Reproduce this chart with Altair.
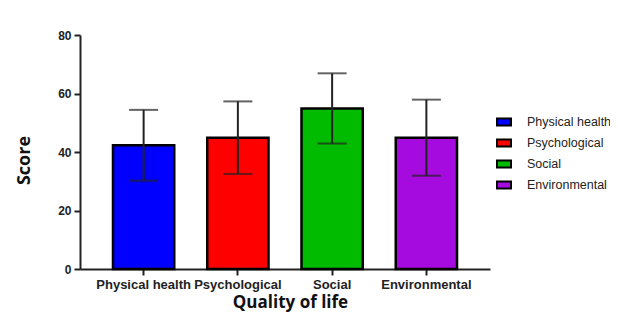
import altair as alt
import pandas as pd

domains = ["Physical health", "Psychological", "Social", "Environmental"]
means = [42.3, 44.9, 54.9, 44.9]
sds = [12.1, 12.4, 12.0, 13.0]
colors = ["#0000FF", "#FF0000", "#00BB00", "#A50ADF"]

df = pd.DataFrame({"domain": domains, "mean": means, "sd": sds})

x = alt.X("domain:N", sort=domains, title="Quality of life",
          scale=alt.Scale(paddingInner=0.35, paddingOuter=0.35),
          axis=alt.Axis(labelAngle=0, labelFont="Liberation Sans", labelFontWeight="bold",
                        labelFontSize=13, labelColor="#222", labelPadding=3,
                        tickSize=6, tickWidth=2, tickColor="#222",
                        domainWidth=2, domainColor="#222",
                        titleFont="Open Sans", titleFontWeight="bold", titleFontSize=17,
                        titleColor="#111", titleBaseline="alphabetic", titleY=38.5,
                        titleX=210, titleAlign="center"))

bars = alt.Chart(df).mark_bar(stroke="black", strokeWidth=2.5).encode(
    x=x,
    y=alt.Y("mean:Q", title="Score",
            scale=alt.Scale(domain=[0, 80]),
            axis=alt.Axis(values=[0, 20, 40, 60, 80], grid=False,
                          labelFont="Liberation Sans", labelFontWeight="bold",
                          labelFontSize=12, labelColor="#222", labelPadding=3,
                          tickSize=6, tickWidth=2, tickColor="#222",
                          domainWidth=2, domainColor="#222",
                          titleFont="Open Sans", titleFontWeight="bold", titleFontSize=18,
                          titleColor="#111", titleAngle=270, titleBaseline="alphabetic",
                          titleX=-51, titleY=125)),
    color=alt.Color("domain:N", sort=domains,
                    scale=alt.Scale(domain=domains, range=colors),
                    legend=alt.Legend(title=None, orient="none", legendX=416, legendY=79,
                                      symbolType="M-1,-0.5H1V0.5H-1Z", symbolSize=196,
                                      symbolStrokeColor="black", symbolStrokeWidth=2,
                                      labelFont="Liberation Sans", labelFontSize=12.5,
                                      labelColor="#222", rowPadding=5, labelOffset=15,
                                      labelLimit=200)),
)

err = alt.Chart(df).transform_calculate(
    lo="datum.mean - datum.sd", hi="datum.mean + datum.sd"
)

rule = err.mark_rule(color="#222", strokeWidth=2).encode(
    x=alt.X("domain:N", sort=domains), y="lo:Q", y2="hi:Q")
cap_hi = err.mark_tick(color="#222", thickness=2, size=29, orient="horizontal").encode(
    x=alt.X("domain:N", sort=domains), y="hi:Q")
cap_lo = err.mark_tick(color="#222", thickness=2, size=29, orient="horizontal").encode(
    x=alt.X("domain:N", sort=domains), y="lo:Q")

chart = alt.layer(bars, rule, cap_hi, cap_lo).properties(
    width=410, height=234,
    autosize=alt.AutoSizeParams(type="none"),
    padding={"left": 72, "top": 27, "right": 120, "bottom": 43},
).configure(background="white").configure_view(stroke=None)

chart.save("out.html", embed_options={"renderer": "svg", "actions": False})
